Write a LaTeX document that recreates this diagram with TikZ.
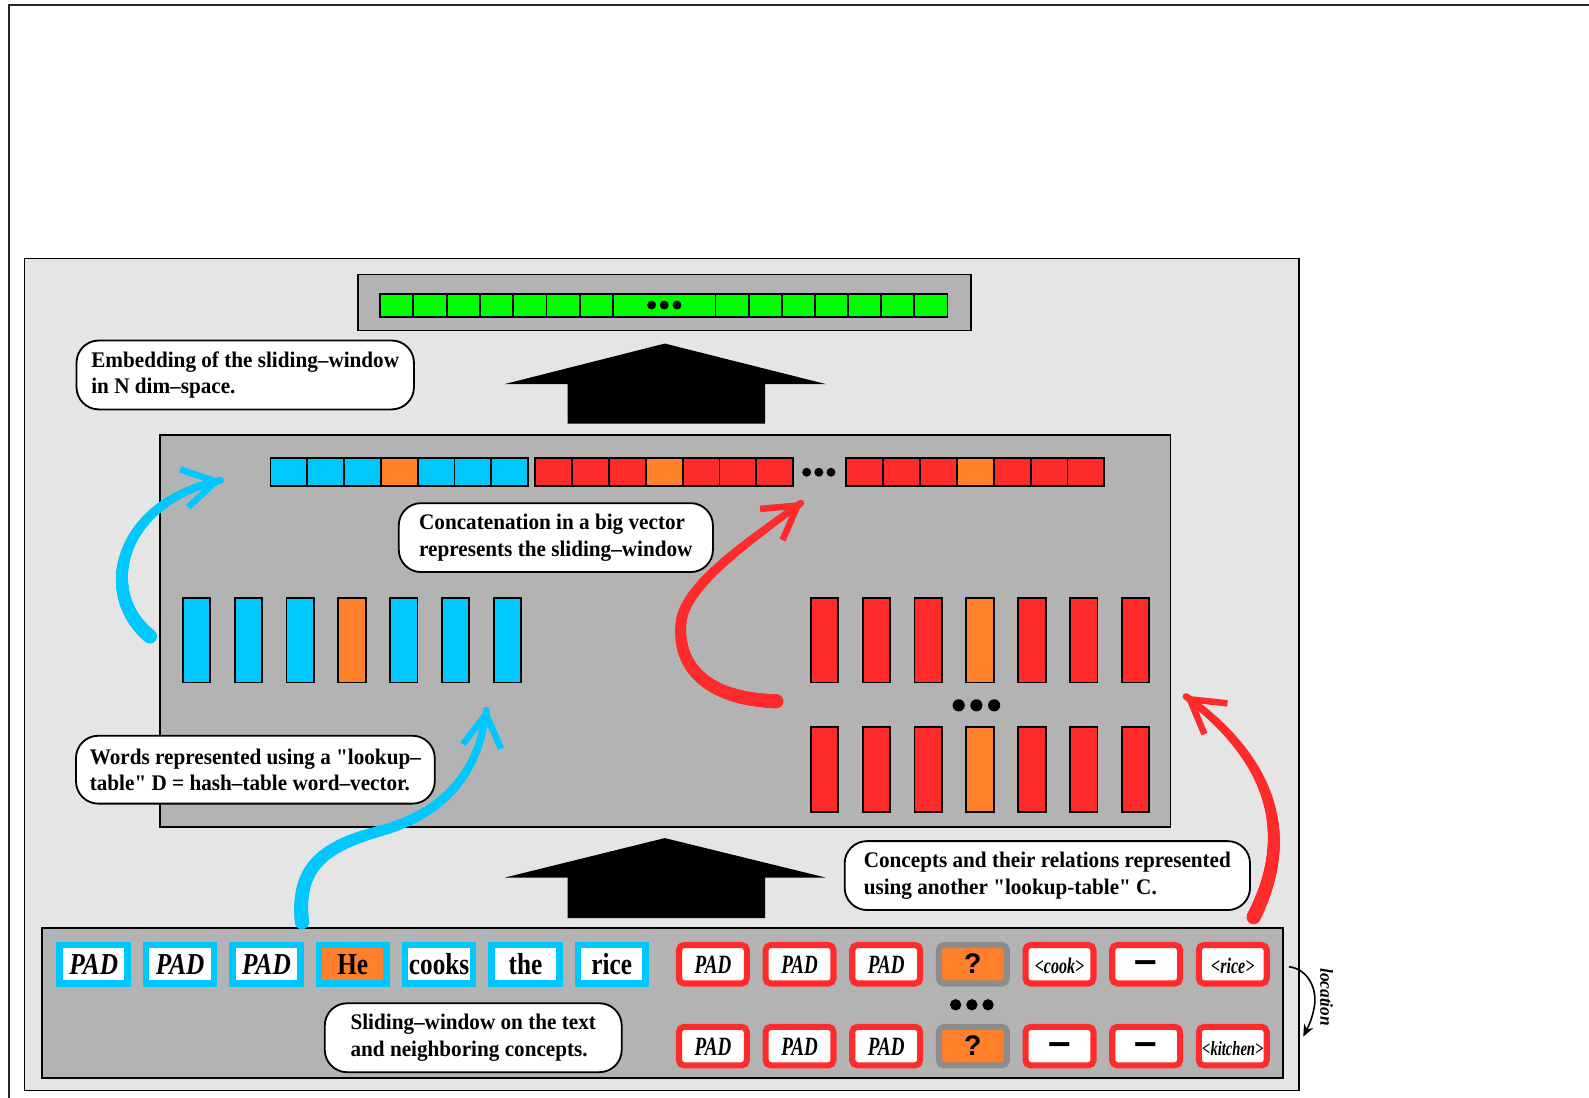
\documentclass[tikz,border=0pt]{standalone}
\usepackage{fontspec}
\setmainfont{Liberation Serif}
\newfontfamily\calfont{Liberation Serif}[FakeStretch=0.95]
\newfontfamily\wordfont{Liberation Serif}[FakeStretch=0.83]
\newfontfamily\confont{Liberation Serif}[FakeStretch=0.72]
\newfontfamily\qfont{Liberation Sans}
\usetikzlibrary{decorations.markings,arrows.meta}
\definecolor{cyanc}{RGB}{0,200,255}
\definecolor{orangec}{RGB}{255,127,42}
\definecolor{redc}{RGB}{255,42,42}
\definecolor{greenc}{RGB}{0,255,0}
\definecolor{midgray}{RGB}{179,179,179}
\definecolor{lightpanel}{RGB}{229,229,229}
\definecolor{qgray}{RGB}{140,140,140}
\tikzset{
  panel/.style={draw=black, line width=0.8pt},
  cell/.style={draw=black, line width=0.9pt},
  wordbox/.style={draw=cyanc, line width=3.25pt, fill=white, minimum width=33.5pt, minimum height=19pt,
    inner sep=0pt, text height=10pt, text depth=0pt, font=\wordfont\bfseries\fontsize{15}{15}\selectfont},
  cbox/.style={draw=redc, line width=3pt, rounded corners=2.5pt, fill=white, minimum width=33.5pt,
    minimum height=19pt, inner sep=0pt, text height=9pt, text depth=0pt},
  qbox/.style={cbox, draw=qgray, fill=orangec},
  padtxt/.style={font=\confont\bfseries\itshape\fontsize{13}{13}\selectfont},
  tagtxt/.style={font=\confont\bfseries\itshape\fontsize{11}{11}\selectfont},
  kittxt/.style={font=\confont\bfseries\itshape\fontsize{10}{10}\selectfont},
  qtxt/.style={font=\qfont\bfseries\fontsize{14}{14}\selectfont},
  dashtxt/.style={font=\qfont\bfseries\fontsize{20}{20}\selectfont},
  callout/.style={draw=black, line width=0.9pt, fill=white, rounded corners=11pt, align=left,
    inner sep=0pt, font=\calfont\bfseries\fontsize{11}{13}\selectfont},
  bigarrow/.style={fill=black},
  brush/.style={decorate, decoration={markings,
    mark=between positions 0 and 1 step 0.004 with {%
      \pgfmathsetmacro\brushr{3.5-1.8*\pgfkeysvalueof{/pgf/decoration/mark info/distance from start}/\pgfdecoratedpathlength}%
      \fill[#1] (0pt,0pt) circle[radius=\brushr pt];}}},
  brushhead/.style={decorate, decoration={markings,
    mark=at position 0.995 with {%
      \draw[#1, line width=3.2pt, line join=miter, line cap=butt] (-18pt,9.5pt) -- (-2pt,0pt) -- (-18pt,-9.5pt);}}}
}
\begin{document}
\begin{tikzpicture}[x=0.5pt,y=-0.5pt]
\useasboundingbox (0,0) rectangle (1568,1083);
% outer frame and panels
\draw[line width=0.8pt, black!85] (1568,5) -- (9,5) -- (9,1083);
\draw[panel, fill=lightpanel] (24,255) rectangle (1282,1076);
\draw[panel, fill=midgray] (353,271) rectangle (958,326);
\draw[panel, fill=midgray] (158,429) rectangle (1155,816);
\draw[panel, fill=midgray] (41.5,916) rectangle (1266,1064);

% top green vector
\foreach \i in {0,...,6} {\draw[cell,fill=greenc] ({375+32.86*\i},290.5) rectangle ++(32.86,22);}
\draw[cell,fill=greenc] (605,290.5) rectangle (706,312.5);
\foreach \i in {0,...,6} {\draw[cell,fill=greenc] ({706+32.7*\i},290.5) rectangle ++(32.7,22);}
\foreach \x in {643,655.5,668} {\fill (\x,301) circle[radius=2.2pt];}

% big arrows
\fill[bigarrow] (656,339) -- (815,379) -- (755,379) -- (755,418) -- (560,418) -- (560,379) -- (498,379) -- cycle;
\fill[bigarrow] (656,827) -- (815,866) -- (755,866) -- (755,906) -- (560,906) -- (560,866) -- (498,866) -- cycle;

% concatenated vector
\foreach \i/\c in {0/cyanc,1/cyanc,2/cyanc,3/orangec,4/cyanc,5/cyanc,6/cyanc}
  {\draw[cell,fill=\c] ({267+36.3*\i},452) rectangle ++(36.3,27.5);}
\foreach \i/\c in {0/redc,1/redc,2/redc,3/orangec,4/redc,5/redc,6/redc}
  {\draw[cell,fill=\c] ({528+36.4*\i},452) rectangle ++(36.4,27.5);
   \draw[cell,fill=\c] ({835+36.4*\i},452) rectangle ++(36.4,27.5);}
\foreach \x in {796,808,820} {\fill (\x,466) circle[radius=2.2pt];}

% word vectors (bars)
\foreach \i/\c in {0/cyanc,1/cyanc,2/cyanc,3/orangec,4/cyanc,5/cyanc,6/cyanc}
  {\draw[cell,fill=\c] ({180.5+51.1*\i},590) rectangle ++(27,83.5);}
\foreach \i/\c in {0/redc,1/redc,2/redc,3/orangec,4/redc,5/redc,6/redc}
  {\draw[cell,fill=\c] ({800+51.2*\i},590) rectangle ++(27,83.5);
   \draw[cell,fill=\c] ({800+51.2*\i},717.5) rectangle ++(27,84);}
\foreach \x in {946,963.5,981} {\fill (\x,696) circle[radius=3pt];}

% word boxes
\node[wordbox] (w1) at (92.5,951.5) {\textit{PAD}};
\node[wordbox] (w2) at (177.7,951.5) {\textit{PAD}};
\node[wordbox] (w3) at (262.9,951.5) {\textit{PAD}};
\node[wordbox, fill=orangec] (w4) at (348.1,951.5) {He};
\node[wordbox] (w5) at (433.3,951.5) {cooks};
\node[wordbox] (w6) at (518.5,951.5) {the};
\node[wordbox] (w7) at (603.7,951.5) {rice};

% concept boxes
\node[cbox, padtxt] (c11) at (703.5,951.5) {PAD};
\node[cbox, padtxt] (c12) at (789,951.5) {PAD};
\node[cbox, padtxt] (c13) at (874.5,951.5) {PAD};
\node[qbox, qtxt] (c14) at (960,951.5) {?};
\node[cbox, tagtxt] (c15) at (1045.5,951.5) {<cook>};
\node[cbox, dashtxt] (c16) at (1131,951.5) {–};
\node[cbox, tagtxt] (c17) at (1216.5,951.5) {<rice>};
\node[cbox, padtxt] (c21) at (703.5,1032.3) {PAD};
\node[cbox, padtxt] (c22) at (789,1032.3) {PAD};
\node[cbox, padtxt] (c23) at (874.5,1032.3) {PAD};
\node[qbox, qtxt] (c24) at (960,1032.3) {?};
\node[cbox, dashtxt] (c25) at (1045.5,1032.3) {–};
\node[cbox, dashtxt] (c26) at (1131,1032.3) {–};
\node[cbox, kittxt] (c27) at (1216.5,1032.3) {<kitchen>};
\foreach \x in {943,959,975} {\fill (\x,991.5) circle[radius=2.8pt];}

% location arrow
\coordinate (locA) at (1272,954);
\coordinate (locB) at (1286,1023);
\draw[line width=0.8pt, -{Stealth[length=6pt,width=5pt]}] (locA) .. controls (1290,956) and (1300,975) .. (1297,993) .. controls (1295,1005) and (1291,1013) .. (locB);
\node[rotate=-90, font=\calfont\bfseries\itshape\fontsize{9}{9}\selectfont] (loc) at (1309,984) {location};

% callouts
\node[callout, minimum width=166.5pt, minimum height=34pt] (emb) at (242,370) {Embedding of the sliding–window\\in N dim–space.};
\node[callout, minimum width=155pt, minimum height=34pt] (cat) at (548.5,530.5) {Concatenation in a big vector\\represents the sliding–window};
\node[callout, minimum width=177pt, minimum height=33.5pt] (wrd) at (252,759.5) {Words represented using a "lookup–\\table" D = hash–table word–vector.};
\node[callout, minimum width=200pt, minimum height=34pt] (cpt) at (1033.5,864) {Concepts and their relations represented\\using another "lookup-table" C.};
\node[callout, minimum width=146.5pt, minimum height=34pt] (sld) at (467,1024) {Sliding–window on the text\\and neighboring concepts.};

% hand-drawn arrows
\coordinate (a0) at (148,628);  \coordinate (a1) at (218,474);
\coordinate (b0) at (298,910);  \coordinate (bm) at (375,820); \coordinate (b1) at (480,700);
\coordinate (r0) at (766,692);  \coordinate (rm) at (672,615); \coordinate (r1) at (791,496);
\coordinate (d0) at (1237,905); \coordinate (d1) at (1170,687);
\path[brush=cyanc] (a0) .. controls (95,585) and (118,495) .. (a1);
\path[brushhead=cyanc] (a0) .. controls (95,585) and (118,495) .. (a1);
\path[brush=cyanc] (b0) .. controls (292,855) and (320,835) .. (bm) .. controls (430,805) and (472,770) .. (b1);
\path[brushhead=cyanc] (bm) .. controls (430,805) and (472,770) .. (b1);
\path[brush=redc] (r0) .. controls (700,690) and (668,660) .. (rm) .. controls (675,580) and (730,540) .. (r1);
\path[brushhead=redc] (rm) .. controls (675,580) and (730,540) .. (r1);
\path[brush=redc] (d0) .. controls (1275,830) and (1262,755) .. (d1);
\path[brushhead=redc] (d0) .. controls (1275,830) and (1262,755) .. (d1);
\end{tikzpicture}
\end{document}
